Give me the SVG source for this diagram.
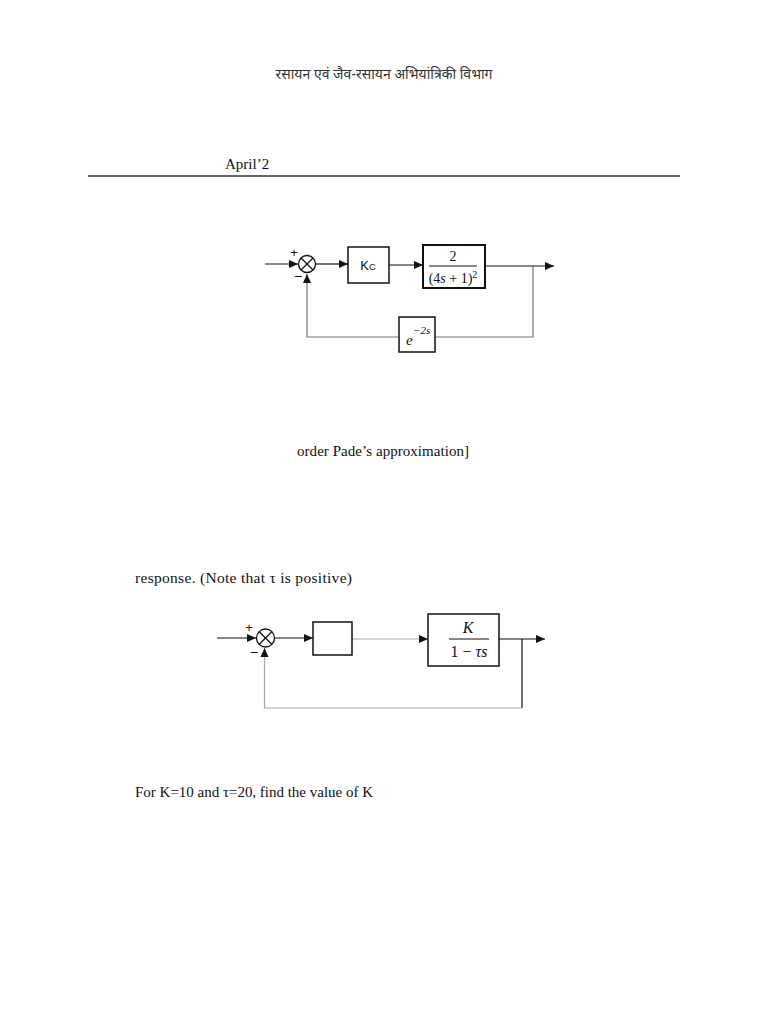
<svg xmlns="http://www.w3.org/2000/svg" width="768" height="1024" viewBox="0 0 768 1024">
<style>
.serif{font-family:"Liberation Serif","Times New Roman",serif;fill:#111}
.sans{font-family:"Liberation Sans",Arial,sans-serif;fill:#111}
.box{fill:#fff;stroke:#111;stroke-width:1.5}
.wire{fill:none;stroke:#111;stroke-width:1.2}
.fb{fill:none;stroke:#777;stroke-width:1.2}
.fb2{fill:none;stroke:#aaa;stroke-width:1.2}
.sum{fill:#fff;stroke:#111;stroke-width:1.3}
</style>
<defs>
<marker id="arr" markerWidth="10" markerHeight="10" refX="9" refY="5" orient="auto" markerUnits="userSpaceOnUse">
<path d="M0,1 L9,5 L0,9 Z" fill="#111"/>
</marker>
</defs>
<rect width="768" height="1024" fill="#fff"/>
<text x="384" y="79" text-anchor="middle" font-size="14" textLength="217" style="font-family:'Noto Sans Devanagari','Noto Sans','Lohit Devanagari',sans-serif;fill:#333">रसायन एवं जैव-रसायन अभियांत्रिकी विभाग</text>
<text x="225" y="169" class="serif" font-size="15">April’2</text>
<line x1="88" y1="176" x2="680" y2="176" stroke="#333" stroke-width="1.3"/>

<g id="connectors1">
<line class="wire" x1="265" y1="264" x2="298" y2="264" marker-end="url(#arr)"/>
<line class="wire" x1="316" y1="264" x2="348" y2="264" marker-end="url(#arr)"/>
<line class="wire" x1="389" y1="265" x2="423" y2="265" marker-end="url(#arr)"/>
<line class="wire" x1="485" y1="266" x2="554" y2="266" marker-end="url(#arr)"/>
<polyline class="fb" points="533,266 533,337 435,337"/>
<polyline class="fb" points="399,337 307,337 307,274" marker-end="url(#arr)"/>
</g>
<g id="sum1">
<circle class="sum" cx="307" cy="264" r="8.5"/>
<line x1="301" y1="258" x2="313" y2="270" stroke="#111" stroke-width="1.2"/>
<line x1="313" y1="258" x2="301" y2="270" stroke="#111" stroke-width="1.2"/>
<text x="294" y="257" class="sans" font-size="13" text-anchor="middle">+</text>
<text x="298" y="281" class="sans" font-size="14" text-anchor="middle">−</text>
</g>
<g id="kc">
<rect class="box" x="348" y="247" width="41" height="36"/>
<text x="368" y="270" class="sans" font-size="13" text-anchor="middle">K<tspan font-size="9.5">C</tspan></text>
</g>
<g id="plant1">
<rect x="423" y="245" width="62" height="43" fill="#fff" stroke="#111" stroke-width="2"/>
<text x="453" y="261" class="serif" font-size="14" text-anchor="middle">2</text>
<line x1="429" y1="266" x2="477" y2="266" stroke="#111" stroke-width="1"/>
<text x="453" y="283" class="serif" font-size="14" text-anchor="middle">(4<tspan font-style="italic">s</tspan> + 1)<tspan font-size="10" dy="-5">2</tspan></text>
</g>
<g id="delay">
<rect class="box" x="399" y="317" width="36" height="35"/>
<text x="406" y="345" class="serif" font-size="15" font-style="italic">e</text>
<text x="413" y="334" class="serif" font-size="11" font-style="italic">−2s</text>
</g>

<text x="297" y="456" class="serif" font-size="15" textLength="172">order Pade’s approximation]</text>
<text x="135" y="583" class="serif" font-size="15.5" textLength="217">response. (Note that τ is positive)</text>

<g id="connectors2">
<line class="wire" x1="217" y1="638" x2="256" y2="638" marker-end="url(#arr)"/>
<line class="wire" x1="275" y1="638" x2="313" y2="638" marker-end="url(#arr)"/>
<line class="fb2" x1="352" y1="639" x2="428" y2="639" marker-end="url(#arr)"/>
<line class="wire" x1="499" y1="639" x2="545" y2="639" marker-end="url(#arr)"/>
<line class="wire" x1="522" y1="639" x2="522" y2="708"/>
<polyline class="fb2" points="522,708 264.5,708 264.5,648" marker-end="url(#arr)"/>
</g>
<g id="sum2">
<circle class="sum" cx="265.5" cy="638" r="9"/>
<line x1="259" y1="631.5" x2="272" y2="644.5" stroke="#111" stroke-width="1.2"/>
<line x1="272" y1="631.5" x2="259" y2="644.5" stroke="#111" stroke-width="1.2"/>
<text x="249" y="632" class="sans" font-size="13" text-anchor="middle">+</text>
<text x="254" y="657" class="sans" font-size="14" text-anchor="middle">−</text>
</g>
<g id="controller">
<rect class="box" x="313" y="622" width="39" height="33" stroke-width="1.2"/>
</g>
<g id="plant2">
<rect class="box" x="428" y="614" width="71" height="52" stroke-width="1.2"/>
<text x="468" y="633" class="serif" font-size="16" font-style="italic" text-anchor="middle">K</text>
<line x1="449" y1="639" x2="489" y2="639" stroke="#111" stroke-width="1"/>
<text x="469" y="657" class="serif" font-size="16" text-anchor="middle">1 − <tspan font-style="italic">τs</tspan></text>
</g>

<text x="135" y="797" class="serif" font-size="15" textLength="238">For K=10 and τ=20, find the value of K</text>
</svg>
